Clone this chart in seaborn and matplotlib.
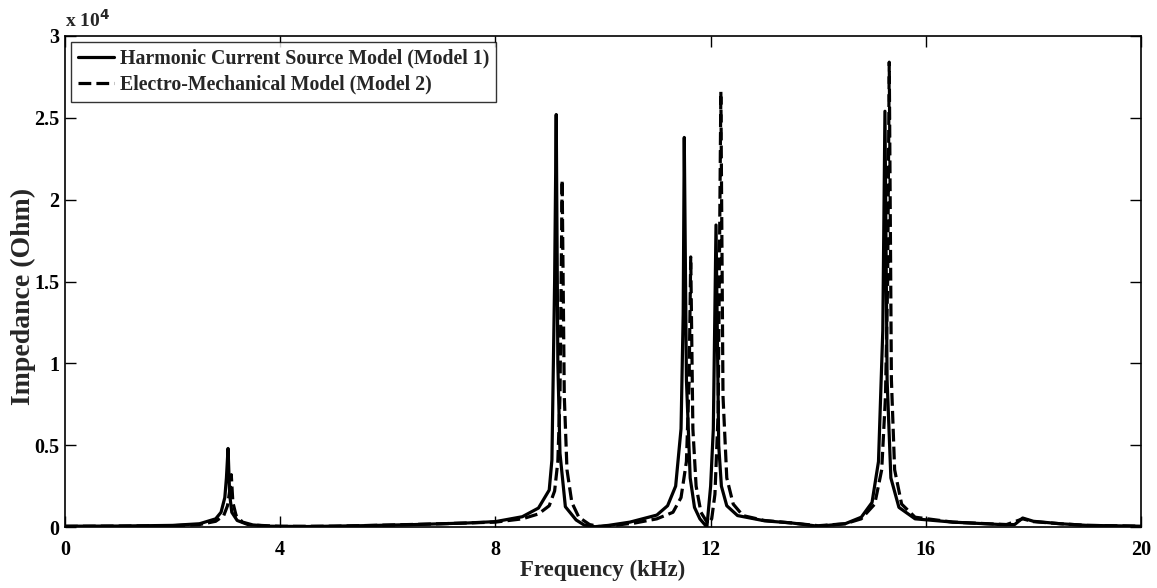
import matplotlib
matplotlib.use("Agg")
import matplotlib.pyplot as plt
import seaborn as sns
import pandas as pd

# Frequency (kHz) and impedance (Ohm) for each model
freq_model1 = [0.0, 1.0, 2.0, 2.5, 2.8, 2.9, 2.97, 3.0, 3.03, 3.06, 3.1, 3.2, 3.4, 3.8,
               4.5, 5.5, 6.5, 7.5, 8.0, 8.5, 8.8, 9.0, 9.05, 9.1, 9.13, 9.16, 9.2, 9.3,
               9.5, 9.65, 9.85, 10.1, 10.5, 11.0, 11.2, 11.35, 11.45, 11.49, 11.51, 11.55,
               11.62, 11.7, 11.8, 11.93, 12.0, 12.05, 12.1, 12.15, 12.2, 12.3, 12.5, 13.0,
               13.5, 14.0, 14.5, 14.8, 15.0, 15.12, 15.2, 15.24, 15.28, 15.35, 15.5, 15.8,
               16.5, 17.4, 17.65, 17.8, 18.0, 18.5, 19.0, 20.0]
imp_model1 = [50, 60, 100, 200, 500, 900, 1800, 3000, 4800, 2000, 900, 400, 150, 50,
              30, 80, 150, 250, 330, 630, 1160, 2260, 4100, 15000, 25200, 10000, 4500, 1240,
              430, 120, 20, 100, 300, 730, 1300, 2500, 6000, 13000, 23800, 9000,
              3000, 1200, 500, 0, 2500, 6000, 18450, 5000, 2500, 1300, 700, 380,
              250, 50, 200, 600, 1500, 4000, 12000, 25400, 9000, 3000, 1200, 500,
              300, 150, 150, 550, 350, 200, 100, 50]

freq_model2 = [0.0, 2.0, 2.5, 2.8, 2.95, 3.02, 3.06, 3.09, 3.12, 3.18, 3.3, 3.5, 4.0, 5.0,
               6.0, 7.0, 8.0, 8.5, 8.8, 9.0, 9.1, 9.16, 9.2, 9.24, 9.28, 9.33, 9.42, 9.55,
               9.75, 9.95, 10.2, 10.6, 11.0, 11.3, 11.45, 11.55, 11.6, 11.63, 11.67, 11.73,
               11.82, 11.95, 12.02, 12.08, 12.14, 12.19, 12.23, 12.3, 12.42, 12.6, 13.0, 13.5,
               14.0, 14.5, 14.8, 15.05, 15.18, 15.25, 15.29, 15.32, 15.36, 15.42, 15.55, 15.8,
               16.5, 17.5, 17.8, 18.0, 18.5, 19.0, 20.0]
imp_model2 = [40, 80, 150, 350, 700, 1300, 2200, 3200, 1500, 700, 300, 120, 40, 50,
              120, 200, 300, 500, 800, 1300, 2200, 4000, 8000, 21200, 8000, 3500, 1500, 600,
              150, 20, 100, 250, 500, 900, 1800, 4000, 9000, 16500, 6000, 2500,
              900, 200, 500, 2000, 7000, 26600, 8000, 3000, 1400, 700, 400, 250,
              80, 200, 500, 1400, 3500, 8000, 15000, 28400, 9000, 3500, 1400, 600,
              300, 150, 500, 330, 200, 100, 50]

labels = ["Harmonic Current Source Model (Model 1)",
          "Electro-Mechanical Model (Model 2)"]
x_ticks = [0, 4, 8, 12, 16, 20]
y_ticks = [0, 5000, 10000, 15000, 20000, 25000, 30000]
y_tick_labels = ["0", "0.5", "1", "1.5", "2", "2.5", "3"]

df = pd.concat([
    pd.DataFrame({"freq": freq_model1, "imp": imp_model1, "model": labels[0]}),
    pd.DataFrame({"freq": freq_model2, "imp": imp_model2, "model": labels[1]}),
], ignore_index=True)

sns.set_style("ticks")
plt.rcParams["font.family"] = ["Liberation Serif", "DejaVu Serif"]
plt.rcParams["font.weight"] = "bold"

fig = plt.figure(figsize=(11.57, 5.88), dpi=100)
ax = fig.add_axes([0.0562, 0.1037, 0.9300, 0.8351])

sns.lineplot(data=df, x="freq", y="imp", style="model", color="black",
             dashes={labels[0]: "", labels[1]: (4, 1.6)}, linewidth=2.3,
             sort=False, estimator=None, ax=ax)

ax.set_xlim(0, 20)
ax.set_ylim(0, 30000)
ax.set_xticks(x_ticks)
ax.set_xticklabels([str(t) for t in x_ticks])
ax.set_yticks(y_ticks)
ax.set_yticklabels(y_tick_labels)
ax.tick_params(direction="in", length=8, width=1, top=True, right=True,
               labelsize=14.5, colors="black")
ax.tick_params(axis="x", pad=9)
ax.tick_params(axis="y", pad=4)
for lab in ax.get_xticklabels() + ax.get_yticklabels():
    lab.set_fontweight("bold")
for sp in ax.spines.values():
    sp.set_visible(True)
    sp.set_linewidth(1.2)
    sp.set_color("black")

ax.set_xlabel("Frequency (kHz)", fontsize=16.5, fontweight="bold", labelpad=0)
ax.set_ylabel("Impedance (Ohm)", fontsize=20, fontweight="bold")
ax.yaxis.set_label_coords(-0.027, 0.47)
ax.text(0.0, 1.01, r"x 10$^{4}$", transform=ax.transAxes, fontsize=14,
        fontweight="bold", ha="left", va="bottom")

leg = ax.legend(loc="upper left", fontsize=14.3, frameon=True, fancybox=False,
                edgecolor="black", handlelength=1.8, borderaxespad=0.3,
                borderpad=0.35, labelspacing=0.3, handletextpad=0.3)
leg.get_frame().set_linewidth(1.0)
for t in leg.get_texts():
    t.set_fontweight("bold")

fig.savefig("out.png", dpi=100, facecolor="white")
